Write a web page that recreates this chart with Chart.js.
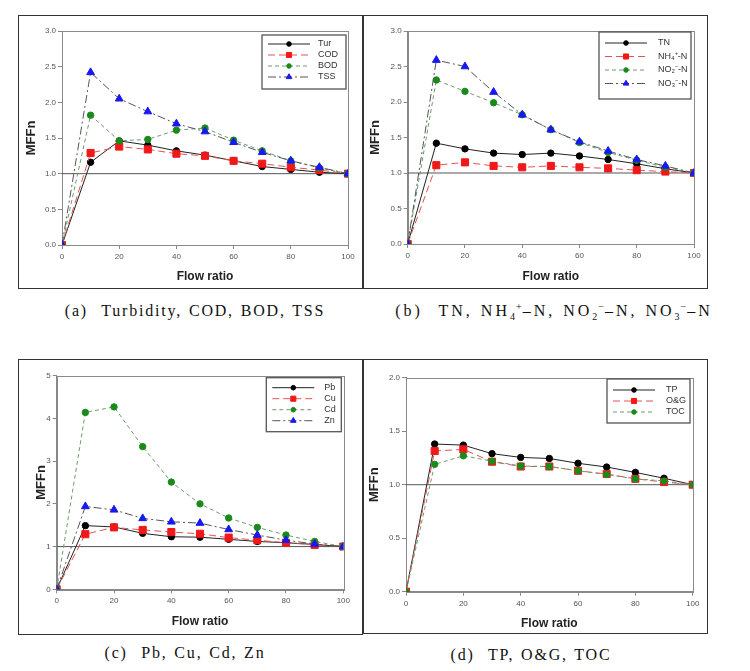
<!DOCTYPE html>
<html>
<head>
<meta charset="utf-8">
<script src="https://cdn.jsdelivr.net/npm/chart.js@4.4.1/dist/chart.umd.min.js"></script>
<style>
  body { margin: 0; background: #fff; width: 750px; height: 671px; position: relative; overflow: hidden; }
  .box { position: absolute; border: 1.5px solid #333; box-sizing: border-box; }
  canvas { position: absolute; }
  .cap { position: absolute; width: 400px; line-height: 20px; text-align: center; white-space: nowrap;
         font-family: "Liberation Serif", "DejaVu Serif", serif; font-size: 16px; color: #111;
         letter-spacing: 1.8px; word-spacing: 1px; }
  .cap sub, .cap sup { font-size: 10px; line-height: 0; letter-spacing: 1px; }
  .cap.wide { letter-spacing: 3px; }
</style>
</head>
<body>
<div class="box" style="left:18px;top:15px;width:345px;height:274px"></div>
<div class="box" style="left:363px;top:15px;width:345px;height:274px"></div>
<div class="box" style="left:18px;top:359px;width:345px;height:276px"></div>
<div class="box" style="left:363px;top:359px;width:345px;height:275px"></div>

<canvas id="chartA" style="left:19px;top:16px"></canvas>
<canvas id="chartB" style="left:365px;top:16px"></canvas>
<canvas id="chartC" style="left:19px;top:360px"></canvas>
<canvas id="chartD" style="left:365px;top:360px"></canvas>

<div class="cap" style="left:-5px;top:301px">(a)&nbsp; Turbidity, COD, BOD, TSS</div>
<div class="cap wide" style="left:354px;top:301px">(b)&nbsp; TN, NH<sub>4</sub><sup>+</sup>–N, NO<sub>2</sub><sup>−</sup>–N, NO<sub>3</sub><sup>−</sup>–N</div>
<div class="cap" style="left:-15px;top:643px">(c)&nbsp; Pb, Cu, Cd, Zn</div>
<div class="cap" style="left:331px;top:645px">(d)&nbsp; TP, O&amp;G, TOC</div>

<script>
const flowRatio = [0, 10, 20, 30, 40, 50, 60, 70, 80, 90, 100];

// (a)
const turbidity = [0, 1.16, 1.46, 1.40, 1.32, 1.26, 1.18, 1.10, 1.06, 1.02, 1.00];
const cod = [0, 1.29, 1.38, 1.34, 1.28, 1.25, 1.18, 1.14, 1.09, 1.05, 1.00];
const bod = [0, 1.82, 1.46, 1.48, 1.61, 1.64, 1.47, 1.32, 1.18, 1.08, 1.00];
const tss = [0, 2.42, 2.05, 1.87, 1.70, 1.59, 1.44, 1.30, 1.18, 1.09, 1.00];

// (b)
const tn = [0, 1.42, 1.34, 1.28, 1.26, 1.28, 1.24, 1.19, 1.13, 1.06, 1.00];
const nh4 = [0, 1.11, 1.15, 1.10, 1.08, 1.10, 1.08, 1.065, 1.04, 1.02, 1.00];
const no2 = [0, 2.31, 2.15, 1.99, 1.82, 1.61, 1.43, 1.29, 1.18, 1.08, 1.00];
const no3 = [0, 2.59, 2.50, 2.14, 1.82, 1.61, 1.44, 1.31, 1.19, 1.10, 1.00];

// (c)
const pb = [0, 1.49, 1.46, 1.31, 1.23, 1.22, 1.17, 1.12, 1.09, 1.05, 1.00];
const cu = [0, 1.29, 1.45, 1.39, 1.34, 1.30, 1.21, 1.15, 1.09, 1.04, 1.00];
const cd = [0, 4.14, 4.27, 3.34, 2.51, 2.00, 1.67, 1.45, 1.27, 1.12, 1.00];
const zn = [0, 1.94, 1.86, 1.66, 1.58, 1.55, 1.40, 1.27, 1.15, 1.06, 1.00];

// (d)
const tp = [0, 1.38, 1.37, 1.29, 1.255, 1.245, 1.20, 1.165, 1.115, 1.06, 1.00];
const og = [0, 1.315, 1.33, 1.215, 1.17, 1.17, 1.13, 1.10, 1.055, 1.025, 1.00];
const toc = [0, 1.19, 1.27, 1.22, 1.175, 1.17, 1.13, 1.095, 1.055, 1.035, 1.00];

const refLevel = 1;

const styles = {
  solid:   { borderColor: "#222", borderDash: [], pointStyle: "circle", pointRadius: 3.2, color: "#000" },
  red:     { borderColor: "#e05454", borderDash: [7, 4], pointStyle: "rect", pointRadius: 5, color: "#f01818" },
  green:   { borderColor: "#6e9c6e", borderDash: [4, 3], pointStyle: "circle", pointRadius: 3.2, color: "#1a8a1a" },
  dashdot: { borderColor: "#555", borderDash: [8, 3, 2, 3], pointStyle: "triangle", pointRadius: 4.5, color: "#1818f0" }
};

const frame = {
  id: "frame",
  beforeDatasetsDraw(chart) {
    const { ctx, chartArea: a } = chart;
    ctx.save();
    ctx.strokeStyle = "#8a8a8a";
    ctx.lineWidth = 1;
    ctx.strokeRect(Math.round(a.left) + 0.5, Math.round(a.top) + 0.5,
      Math.round(a.right - a.left), Math.round(a.bottom - a.top));
    ctx.restore();
  }
};

const boxLegend = {
  id: "boxLegend",
  afterDatasetsDraw(chart, args, o) {
    const { ctx, chartArea: a } = chart;
    const sets = chart.data.datasets.filter(d => d.label);
    const x0 = a.right - o.inset[0] - o.width;
    const y0 = a.top + o.inset[1];
    ctx.save();
    ctx.fillStyle = "#fff";
    ctx.fillRect(x0, y0, o.width, o.height);
    ctx.strokeStyle = "#555";
    ctx.lineWidth = 1.3;
    ctx.strokeRect(x0, y0, o.width, o.height);
    ctx.font = "9px 'Liberation Sans', Arial, sans-serif";
    ctx.textBaseline = "middle";
    sets.forEach((d, i) => {
      const y = y0 + o.rowTop + i * o.rowGap;
      ctx.strokeStyle = d.borderColor;
      ctx.lineWidth = 1;
      ctx.setLineDash(d.borderDash);
      ctx.beginPath();
      ctx.moveTo(x0 + 6, y);
      ctx.lineTo(x0 + 48, y);
      ctx.stroke();
      ctx.setLineDash([]);
      ctx.fillStyle = d.pointBackgroundColor;
      ctx.strokeStyle = d.pointBorderColor;
      Chart.helpers.drawPoint(ctx, { pointStyle: d.pointStyle, radius: d.pointRadius * 0.72, borderWidth: 1, rotation: 0 }, x0 + 27, y);
      ctx.fillStyle = "#333";
      ctx.fillText(d.label, x0 + o.labelX, y);
    });
    ctx.restore();
  }
};

function makePanel(id, size, series, y, lay) {
  const cv = document.getElementById(id);
  cv.width = size[0];
  cv.height = size[1];
  const datasets = series.map((s, i) => {
    const st = styles[s.style];
    return {
      label: s.label,
      data: flowRatio.map((f, k) => ({ x: f, y: s.values[k] })),
      borderColor: st.borderColor,
      borderDash: st.borderDash,
      borderWidth: 1,
      pointStyle: st.pointStyle,
      pointRadius: st.pointRadius,
      pointBackgroundColor: st.color,
      pointBorderColor: st.color,
      pointBorderWidth: 1,
      tension: 0,
      order: -i
    };
  });
  datasets.push({
    label: "",
    data: [{ x: flowRatio[0], y: refLevel }, { x: flowRatio[flowRatio.length - 1], y: refLevel }],
    borderColor: "#555",
    borderWidth: 1,
    pointRadius: 0,
    order: 100
  });
  const noPad = s => { s.paddingLeft = s.paddingRight = s.paddingTop = s.paddingBottom = 0; };
  new Chart(cv, {
    type: "line",
    data: { datasets },
    options: {
      responsive: false,
      animation: false,
      layout: { padding: { left: lay.left, top: lay.top, right: lay.right, bottom: 0 } },
      plugins: {
        legend: { display: false },
        tooltip: { enabled: false },
        boxLegend: lay.legend
      },
      scales: {
        x: {
          type: "linear", min: 0, max: 100,
          ticks: { stepSize: 20, font: { size: 8, family: "'Liberation Sans', Arial" }, color: "#555", padding: 3, maxRotation: 0 },
          grid: { drawOnChartArea: false, drawTicks: true, tickLength: 4, color: "#888" },
          border: { display: true, color: "#888" },
          title: { display: true, text: "Flow ratio", color: "#222", padding: { top: 0, bottom: lay.xTitlePad },
                   font: { size: 12, weight: "bold", family: "'Liberation Sans', Arial" } },
          afterFit(s) { s.height = lay.xH; noPad(s); }
        },
        y: {
          type: "linear", min: 0, max: y.max,
          ticks: { stepSize: y.step, font: { size: 8, family: "'Liberation Sans', Arial" }, color: "#555", padding: 2,
                   callback: v => v.toFixed(y.dec) },
          grid: { drawOnChartArea: false, drawTicks: true, tickLength: 4, color: "#888" },
          border: { display: true, color: "#888" },
          title: { display: true, text: "MFFn", color: "#222", padding: { top: lay.yTitlePad, bottom: 0 },
                   font: { size: 13, weight: "bold", family: "'Liberation Sans', Arial" } },
          afterFit(s) { s.width = lay.yW; noPad(s); }
        }
      }
    },
    plugins: [frame, boxLegend]
  });
}

makePanel("chartA", [342, 272], [
  { label: "Tur", values: turbidity, style: "solid" },
  { label: "COD", values: cod, style: "red" },
  { label: "BOD", values: bod, style: "green" },
  { label: "TSS", values: tss, style: "dashdot" }
], { max: 3, step: 0.5, dec: 1 }, {
  left: 0, top: 15, right: 13, yW: 43, xH: 43, yTitlePad: 5, xTitlePad: 4,
  legend: { width: 84, height: 54, inset: [2, 4], rowTop: 9, rowGap: 11, labelX: 56 }
});

makePanel("chartB", [341, 271], [
  { label: "TN", values: tn, style: "solid" },
  { label: "NH₄⁺-N", values: nh4, style: "red" },
  { label: "NO₂⁻-N", values: no2, style: "green" },
  { label: "NO₃⁻-N", values: no3, style: "dashdot" }
], { max: 3, step: 0.5, dec: 1 }, {
  left: 0, top: 15, right: 12, yW: 42.7, xH: 43, yTitlePad: 3, xTitlePad: 3,
  legend: { width: 92, height: 67, inset: [3, 1], rowTop: 11, rowGap: 13.5, labelX: 59 }
});

makePanel("chartC", [342, 273], [
  { label: "Pb", values: pb, style: "solid" },
  { label: "Cu", values: cu, style: "red" },
  { label: "Cd", values: cd, style: "green" },
  { label: "Zn", values: zn, style: "dashdot" }
], { max: 5, step: 1, dec: 0 }, {
  left: 10, top: 15.7, right: 17.7, yW: 27.7, xH: 43.7, yTitlePad: 5, xTitlePad: 4,
  legend: { width: 75, height: 54, inset: [2, 2], rowTop: 10, rowGap: 11, labelX: 58 }
});

makePanel("chartD", [341, 272], [
  { label: "TP", values: tp, style: "solid" },
  { label: "O&G", values: og, style: "red" },
  { label: "TOC", values: toc, style: "green" }
], { max: 2, step: 0.5, dec: 1 }, {
  left: 0, top: 17.7, right: 13.3, yW: 41, xH: 40.3, yTitlePad: 2, xTitlePad: 1.5,
  legend: { width: 83, height: 44, inset: [2.7, 1.3], rowTop: 11, rowGap: 11, labelX: 59 }
});
</script>
</body>
</html>
